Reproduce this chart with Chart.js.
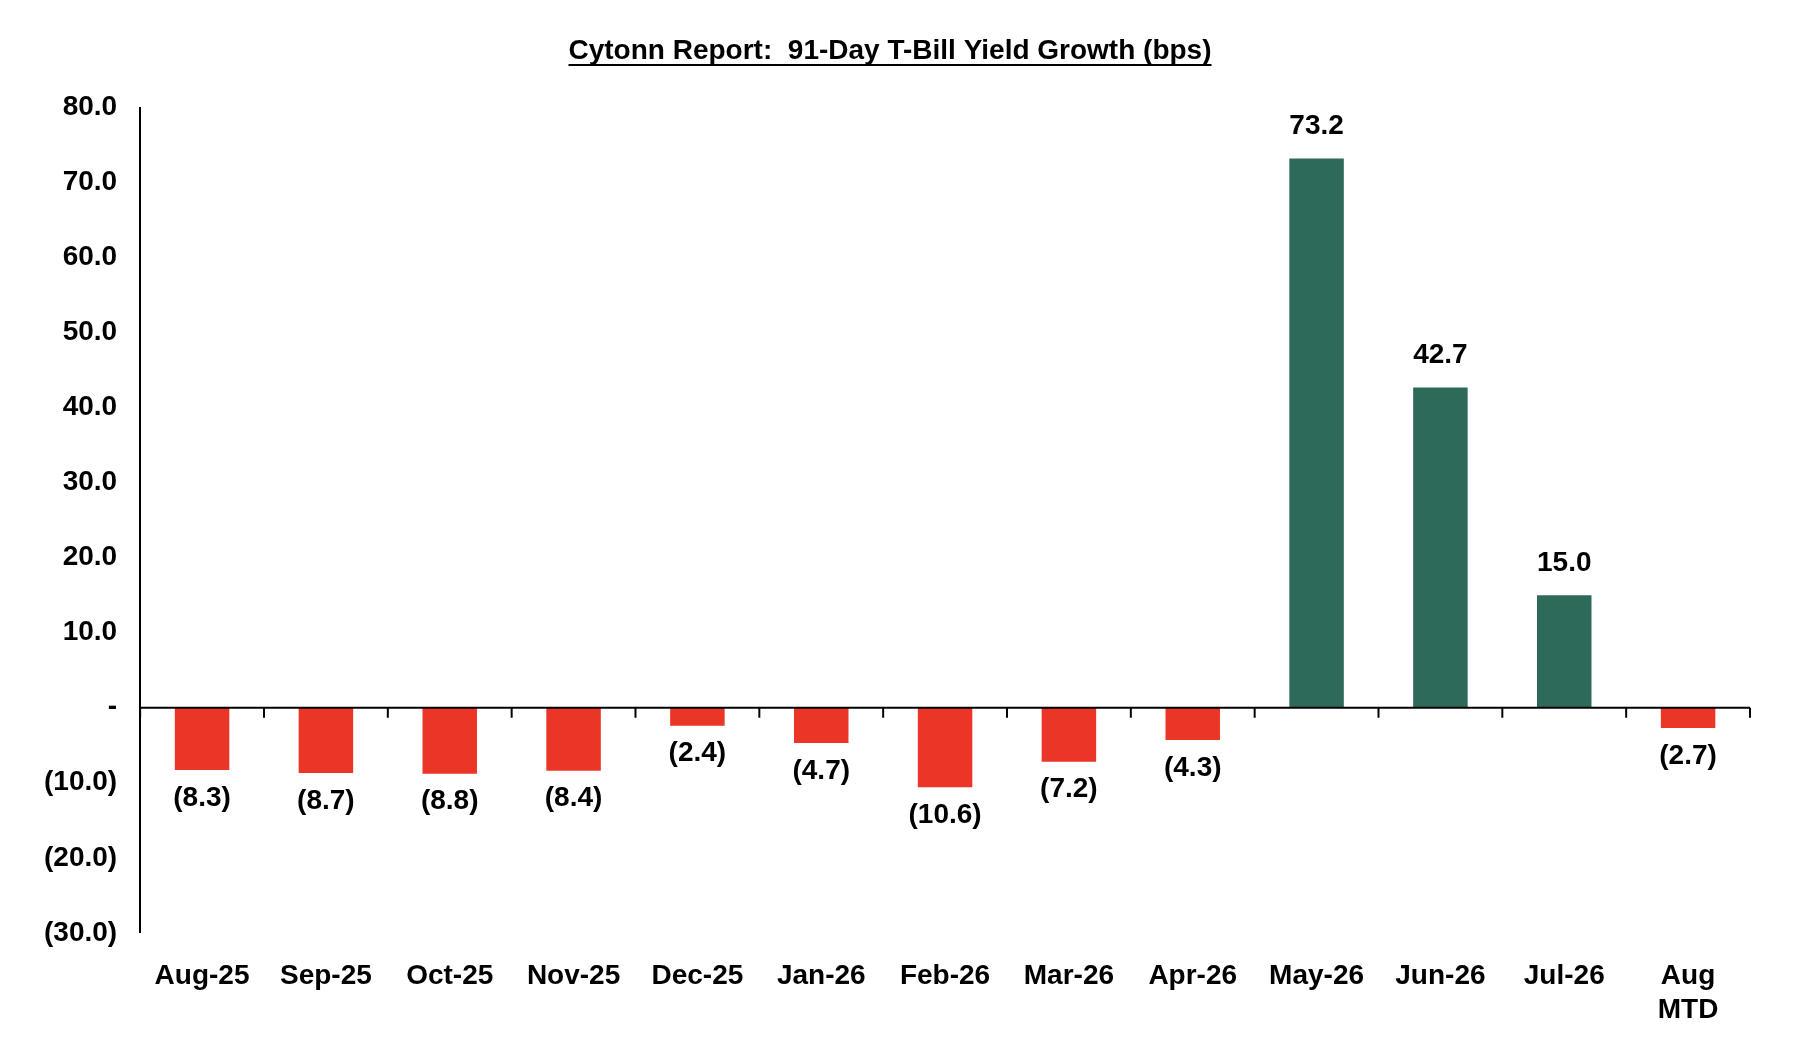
<!DOCTYPE html>
<html><head><meta charset="utf-8">
<script src="https://cdn.jsdelivr.net/npm/chart.js@4/dist/chart.umd.min.js"></script>
<style>html,body{margin:0;background:#fff}#w{position:relative;width:1810px;height:1054px}</style>
</head><body><div id="w"><canvas id="c"></canvas></div>
<script>
const categories = ["Aug-25","Sep-25","Oct-25","Nov-25","Dec-25","Jan-26","Feb-26","Mar-26","Apr-26","May-26","Jun-26","Jul-26",["Aug","MTD"]];
const values = [-8.3,-8.7,-8.8,-8.4,-2.4,-4.7,-10.6,-7.2,-4.3,73.2,42.7,15.0,-2.7];
const yTicks = [-30,-20,-10,0,10,20,30,40,50,60,70,80];
const FONT = "'Liberation Sans Narrow','Liberation Sans',Arial,sans-serif";
const fmt = v => v === 0 ? "-" : (v < 0 ? "(" + Math.abs(v).toFixed(1) + ")" : v.toFixed(1));

const extras = {
  id: 'extras',
  afterDatasetsDraw(chart) {
    const ctx = chart.ctx, x = chart.scales.x, y = chart.scales.y, a = chart.chartArea;
    const y0 = y.getPixelForValue(0);
    ctx.save();
    ctx.strokeStyle = '#000'; ctx.lineWidth = 2;
    ctx.beginPath(); ctx.moveTo(a.left, y0); ctx.lineTo(a.right, y0); ctx.stroke();
    const step = (a.right - a.left) / categories.length;
    for (let i = 0; i <= categories.length; i++) {
      const px = a.left + i * step;
      ctx.beginPath(); ctx.moveTo(px, y0); ctx.lineTo(px, y0 + 10); ctx.stroke();
    }
    ctx.fillStyle = '#000'; ctx.font = "bold 28px " + FONT; ctx.textAlign = 'center';
    const meta = chart.getDatasetMeta(0);
    meta.data.forEach((bar, i) => {
      const v = values[i];
      if (v >= 0) { ctx.textBaseline = 'bottom'; ctx.fillText(fmt(v), bar.x, bar.y - 18); }
      else { ctx.textBaseline = 'top'; ctx.fillText(fmt(v), bar.x, bar.y + 14); }
    });
    ctx.restore();
  }
};

new Chart(document.getElementById('c'), {
  type: 'bar',
  data: { labels: categories, datasets: [{
    data: values,
    backgroundColor: values.map(v => v >= 0 ? '#2d6a5a' : '#eb3627'),
    barPercentage: 0.44, categoryPercentage: 1.0
  }]},
  options: {
    responsive: true, maintainAspectRatio: false, animation: false,
    layout: { padding: { left: 30, right: 60, top: 20, bottom: 0 } },
    plugins: {
      legend: { display: false }, tooltip: { enabled: false },
      title: { display: true, text: 'Cytonn Report:  91-Day T-Bill Yield Growth (bps)', color: '#000',
        font: { family: FONT, size: 28, weight: 'bold' }, padding: { top: 14, bottom: 40 } }
    },
    scales: {
      x: { grid: { display: false, drawTicks: false }, border: { display: false },
        ticks: { color: '#000', font: { family: FONT, size: 28, weight: 'bold' }, padding: 27, maxRotation: 0, autoSkip: false } },
      y: { min: -30, max: 80, afterBuildTicks: s => { s.ticks = yTicks.map(v => ({ value: v })); },
        grid: { display: false, drawTicks: true, tickLength: 9, tickColor: '#000', tickWidth: 2 },
        border: { display: true, color: '#000', width: 2 },
        ticks: { color: '#000', font: { family: FONT, size: 28, weight: 'bold' }, padding: 14, callback: v => fmt(v) } }
    }
  },
  plugins: [extras, {
    id: 'underline',
    afterDraw(chart) {
      const t = chart.titleBlock; if (!t) return;
      const ctx = chart.ctx; ctx.save(); ctx.font = "bold 28px " + FONT;
      const w = ctx.measureText(chart.options.plugins.title.text).width;
      const cx = (t.left + t.right) / 2, yy = t.top + t.options.padding.top + 31;
      ctx.strokeStyle = '#000'; ctx.lineWidth = 2;
      ctx.beginPath(); ctx.moveTo(cx - w / 2, yy); ctx.lineTo(cx + w / 2, yy); ctx.stroke(); ctx.restore();
    }
  }]
});
</script></body></html>
